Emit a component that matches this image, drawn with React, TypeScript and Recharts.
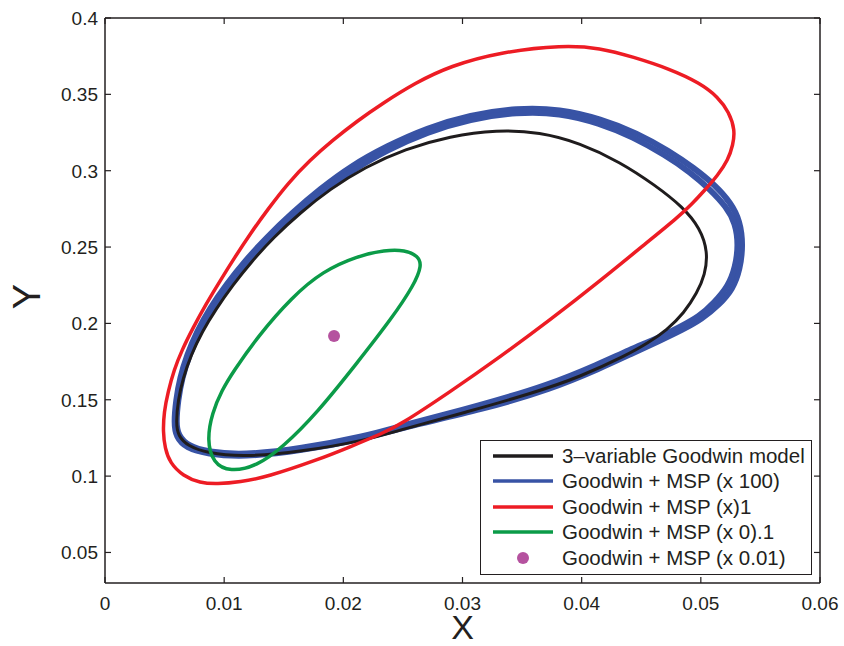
import { ComposedChart, Line, Scatter, XAxis, YAxis, Legend } from "recharts";

// axis ticks
const xTicks = [0, 0.01, 0.02, 0.03, 0.04, 0.05, 0.06];
const xTickLabels = ["0", "0.01", "0.02", "0.03", "0.04", "0.05", "0.06"];
const yTicks = [0.05, 0.1, 0.15, 0.2, 0.25, 0.3, 0.35, 0.4];
const yTickLabels = ["0.05", "0.1", "0.15", "0.2", "0.25", "0.3", "0.35", "0.4"];

// 3-variable Goodwin model (closed orbit, [X, Y])
const goodwin3Var: [number, number][] = [
  [0.00596, 0.1348], [0.00613, 0.1498], [0.00655, 0.1643], [0.00722, 0.1793],
  [0.00814, 0.1944], [0.00931, 0.2094], [0.01074, 0.2252], [0.01234, 0.2409],
  [0.01418, 0.2566], [0.01636, 0.2723], [0.01888, 0.288], [0.02182, 0.3024],
  [0.02517, 0.3142], [0.02895, 0.3227], [0.03289, 0.3267], [0.0365, 0.3253],
  [0.03986, 0.3181], [0.04322, 0.3057], [0.04615, 0.2906], [0.0485, 0.2762],
  [0.04993, 0.2625], [0.0506, 0.2468], [0.05035, 0.2317], [0.04968, 0.2199],
  [0.04859, 0.2068], [0.04716, 0.1957], [0.04557, 0.1872], [0.0438, 0.1793],
  [0.03986, 0.1649], [0.03592, 0.1544], [0.03038, 0.142], [0.02475, 0.1302],
  [0.02199, 0.1236], [0.01636, 0.1158], [0.01158, 0.1125], [0.00856, 0.1151],
  [0.00696, 0.1197], [0.00613, 0.1263],
];

// Goodwin + MSP (x 100): slowly drifting orbit, outer and inner passes
const msp100Outer: [number, number][] = [
  [0.00579, 0.1348], [0.00596, 0.1498], [0.00629, 0.1643], [0.00688, 0.1793],
  [0.00772, 0.195], [0.00881, 0.2101], [0.01015, 0.2252], [0.01175, 0.2409],
  [0.01359, 0.2566], [0.01569, 0.2723], [0.01804, 0.288], [0.02064, 0.3031],
  [0.02366, 0.3162], [0.02702, 0.328], [0.03063, 0.3365], [0.03457, 0.3411],
  [0.03818, 0.3404], [0.04162, 0.3339], [0.04464, 0.3247], [0.04733, 0.3129],
  [0.04943, 0.3018], [0.05119, 0.2906], [0.05253, 0.2789], [0.05329, 0.2671],
  [0.05354, 0.2513], [0.05329, 0.2356], [0.0527, 0.2225], [0.05152, 0.2121],
  [0.0501, 0.2029], [0.04842, 0.1957], [0.04666, 0.1891], [0.04414, 0.18],
  [0.04162, 0.1708], [0.03743, 0.157], [0.0318, 0.1439], [0.02475, 0.1315],
  [0.02199, 0.125], [0.01636, 0.1164], [0.01158, 0.1125], [0.00856, 0.1145],
  [0.0068, 0.1184], [0.00596, 0.1256],
];
const msp100Inner: [number, number][] = [
  [0.00596, 0.1348], [0.00613, 0.1498], [0.00646, 0.1643], [0.00705, 0.1787],
  [0.00789, 0.1937], [0.00898, 0.2088], [0.01032, 0.2238], [0.01192, 0.2396],
  [0.01376, 0.2553], [0.01586, 0.271], [0.01821, 0.2867], [0.02081, 0.3005],
  [0.02366, 0.3136], [0.02702, 0.3253], [0.03063, 0.3339], [0.03457, 0.3384],
  [0.03818, 0.3378], [0.04145, 0.3312], [0.04431, 0.3221], [0.04699, 0.3103],
  [0.04909, 0.2992], [0.0508, 0.2876], [0.05215, 0.2762], [0.0529, 0.2657],
  [0.05316, 0.2513], [0.0529, 0.2369], [0.05232, 0.2245], [0.05114, 0.2137],
  [0.04988, 0.2045], [0.04818, 0.1974], [0.04657, 0.191], [0.04397, 0.1826],
  [0.04145, 0.1734], [0.03726, 0.1597], [0.03164, 0.1466], [0.02475, 0.1328],
  [0.02199, 0.1263], [0.01636, 0.1178], [0.01158, 0.1138], [0.00864, 0.1158],
  [0.00696, 0.1197], [0.00613, 0.1269],
];

// Goodwin + MSP (x 1)
const msp1: [number, number][] = [
  [0.00487, 0.1289], [0.00495, 0.142], [0.00529, 0.1551], [0.00579, 0.1695],
  [0.00646, 0.1826], [0.00738, 0.197], [0.00848, 0.2127], [0.00965, 0.2278],
  [0.01091, 0.2435], [0.01217, 0.2585], [0.01368, 0.2749], [0.01536, 0.2919],
  [0.0172, 0.307], [0.01913, 0.3201], [0.02115, 0.3325], [0.02333, 0.3443],
  [0.02601, 0.3574], [0.02895, 0.3686], [0.03315, 0.3777], [0.03843, 0.3823],
  [0.04154, 0.3804], [0.04431, 0.3745], [0.04741, 0.3666], [0.04993, 0.3574],
  [0.05144, 0.3483], [0.05236, 0.3384], [0.05287, 0.3267], [0.0527, 0.3168],
  [0.05228, 0.307], [0.05144, 0.2972], [0.05035, 0.2874], [0.04926, 0.2782],
  [0.048, 0.269], [0.04573, 0.2546], [0.04154, 0.2278], [0.03734, 0.2022],
  [0.03315, 0.178], [0.02895, 0.1551], [0.02475, 0.1335], [0.02333, 0.1282],
  [0.02056, 0.1191], [0.01779, 0.1105], [0.01359, 0.0994], [0.01133, 0.0961],
  [0.0094, 0.0948], [0.00797, 0.0955], [0.00655, 0.1001], [0.00545, 0.1086],
  [0.00503, 0.1184],
];

// Goodwin + MSP (x 0.1)
const msp01: [number, number][] = [
  [0.00856, 0.1236], [0.00898, 0.1413], [0.00982, 0.1564], [0.01074, 0.1682],
  [0.01284, 0.1917], [0.01569, 0.2173], [0.01829, 0.2343], [0.02115, 0.2441],
  [0.0235, 0.2481], [0.02517, 0.2481], [0.02627, 0.2441], [0.0266, 0.2382],
  [0.02593, 0.2251], [0.02408, 0.2035], [0.02115, 0.1741], [0.01779, 0.1413],
  [0.01494, 0.1191], [0.01276, 0.1066], [0.01049, 0.1027], [0.00906, 0.1086],
];

// Goodwin + MSP (x 0.01): steady state
const msp001: [number, number][] = [[0.01922, 0.1917]];

const legendItems = [
  { label: "3\u2013variable Goodwin model", color: "#1f1c1d", kind: "line" },
  { label: "Goodwin + MSP (x 100)", color: "#3853a5", kind: "line" },
  { label: "Goodwin + MSP (x)1", color: "#ed1c24", kind: "line" },
  { label: "Goodwin + MSP (x 0).1", color: "#0b9b48", kind: "line" },
  { label: "Goodwin + MSP (x 0.01)", color: "#b5529f", kind: "dot" },
];

const toPoints = (pairs: [number, number][]) => pairs.map(([x, y]) => ({ x, y }));

const FONT = '"Liberation Sans", Arial, Helvetica, sans-serif';
const INK = "#231f20";

function BottomTick({ x, y, payload }: any) {
  const i = xTicks.indexOf(payload.value);
  return (
    <g>
      <line x1={x} x2={x} y1={y} y2={y - 6} stroke={INK} strokeWidth={1.2} />
      <text x={x} y={y + 27} textAnchor="middle" fontSize={19} fontFamily={FONT} fill={INK}>
        {xTickLabels[i]}
      </text>
    </g>
  );
}

function TopTick({ x, y }: any) {
  return <line x1={x} x2={x} y1={y} y2={y + 6} stroke={INK} strokeWidth={1.2} />;
}

function LeftTick({ x, y, payload }: any) {
  const i = yTicks.indexOf(payload.value);
  return (
    <g>
      <line x1={x} x2={x + 6} y1={y} y2={y} stroke={INK} strokeWidth={1.2} />
      <text x={x - 7} y={y} dy="0.36em" textAnchor="end" fontSize={19} fontFamily={FONT} fill={INK}>
        {yTickLabels[i]}
      </text>
    </g>
  );
}

function RightTick({ x, y }: any) {
  return <line x1={x} x2={x - 6} y1={y} y2={y} stroke={INK} strokeWidth={1.2} />;
}

function LegendBox() {
  return (
    <div
      style={{
        width: 332,
        height: 135,
        boxSizing: "border-box",
        border: `1.5px solid ${INK}`,
        background: "#fff",
        paddingTop: 2,
        paddingLeft: 12,
        fontFamily: FONT,
        fontSize: 20.5,
        color: INK,
      }}
    >
      {legendItems.map((it) => (
        <div key={it.label} style={{ display: "flex", alignItems: "center", height: 25.5 }}>
          <svg width={60} height={14} style={{ marginRight: 9, flex: "none" }}>
            {it.kind === "line" ? (
              <line x1={0} x2={60} y1={7} y2={7} stroke={it.color} strokeWidth={3.5} />
            ) : (
              <circle cx={30} cy={7} r={6} fill={it.color} />
            )}
          </svg>
          <span style={{ whiteSpace: "nowrap" }}>{it.label}</span>
        </div>
      ))}
    </div>
  );
}

export default function App() {
  return (
    <div style={{ position: "absolute", left: 0, top: 0, background: "#fff" }}>
      <ComposedChart width={844} height={646} margin={{ top: 0, right: 0, bottom: 0, left: 0 }}>
        <XAxis
          dataKey="x"
          type="number"
          domain={[0, 0.06]}
          ticks={xTicks}
          interval={0}
          allowDataOverflow
          height={63}
          tickSize={0}
          tickMargin={0}
          tickLine={false}
          axisLine={{ stroke: INK, strokeWidth: 1.5 }}
          tick={<BottomTick />}
          label={{ value: "X", position: "insideBottom", offset: 7, fontSize: 34, fontFamily: FONT, fill: INK }}
        />
        <XAxis
          xAxisId="top"
          dataKey="x"
          type="number"
          orientation="top"
          domain={[0, 0.06]}
          ticks={xTicks}
          interval={0}
          allowDataOverflow
          height={18}
          tickSize={0}
          tickMargin={0}
          tickLine={false}
          axisLine={{ stroke: INK, strokeWidth: 1.5 }}
          tick={<TopTick />}
        />
        <YAxis
          type="number"
          domain={[0.03, 0.4]}
          ticks={yTicks}
          interval={0}
          allowDataOverflow
          width={105}
          tickSize={0}
          tickMargin={0}
          tickLine={false}
          axisLine={{ stroke: INK, strokeWidth: 1.5 }}
          tick={<LeftTick />}
          label={{
            content: (props: any) => {
              const vb = props.viewBox;
              const cx = vb.x + 26;
              const cy = vb.y + vb.height / 2 - 4;
              return (
                <text
                  x={cx}
                  y={cy}
                  transform={`rotate(-90 ${cx} ${cy})`}
                  textAnchor="middle"
                  dy="0.36em"
                  fontSize={38}
                  fontFamily={FONT}
                  fill={INK}
                >
                  Y
                </text>
              );
            },
          }}
        />
        <YAxis
          yAxisId="right"
          type="number"
          orientation="right"
          domain={[0.03, 0.4]}
          ticks={yTicks}
          interval={0}
          allowDataOverflow
          width={24}
          tickSize={0}
          tickMargin={0}
          tickLine={false}
          axisLine={{ stroke: INK, strokeWidth: 1.5 }}
          tick={<RightTick />}
        />
        <Legend
          layout="vertical"
          align="center"
          verticalAlign="middle"
          wrapperStyle={{ left: 480, top: 440, width: 332 }}
          content={<LegendBox />}
        />
        <Line data={toPoints(msp100Outer)} dataKey="y" type="basisClosed" stroke="#3853a5" strokeWidth={6} dot={false} activeDot={false} isAnimationActive={false} />
        <Line data={toPoints(msp100Inner)} dataKey="y" type="basisClosed" stroke="#3853a5" strokeWidth={6} dot={false} activeDot={false} isAnimationActive={false} />
        <Line data={toPoints(goodwin3Var)} dataKey="y" type="basisClosed" stroke="#1f1c1d" strokeWidth={3} dot={false} activeDot={false} isAnimationActive={false} />
        <Line data={toPoints(msp1)} dataKey="y" type="basisClosed" stroke="#ed1c24" strokeWidth={3.5} dot={false} activeDot={false} isAnimationActive={false} />
        <Line data={toPoints(msp01)} dataKey="y" type="basisClosed" stroke="#0b9b48" strokeWidth={3.5} dot={false} activeDot={false} isAnimationActive={false} />
        <Scatter
          data={toPoints(msp001)}
          dataKey="y"
          fill="#b5529f"
          isAnimationActive={false}
          shape={(p: any) => <circle cx={p.cx} cy={p.cy} r={6} fill="#b5529f" />}
        />
      </ComposedChart>
    </div>
  );
}
